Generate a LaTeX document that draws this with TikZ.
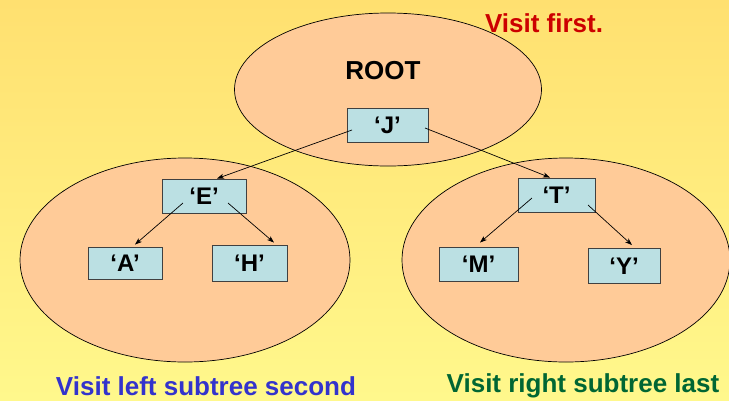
\documentclass[tikz,border=0pt]{standalone}
\usepackage{fontspec}
\setmainfont{Liberation Sans}
\usetikzlibrary{arrows.meta,calc}
\definecolor{bgtop}{HTML}{FFE070}
\definecolor{bgmid}{HTML}{FFC855}
\definecolor{bgbot}{HTML}{FFF88C}
\definecolor{peach}{HTML}{FFCB98}
\definecolor{boxfill}{HTML}{BBE0E3}
\definecolor{boxline}{HTML}{404040}
\definecolor{redtxt}{HTML}{CC0000}
\definecolor{bluetxt}{HTML}{3333CC}
\definecolor{greentxt}{HTML}{006633}
\tikzset{
  region/.style={ellipse fill},
  keybox/.style={draw=boxline, line width=0.9pt, fill=boxfill, inner sep=0pt,
    font=\fontsize{24}{28}\selectfont\bfseries},
  bigtxt/.style={font=\fontsize{26}{30}\selectfont\bfseries, inner sep=0pt},
  link/.style={line width=0.7pt, -{Stealth[length=7pt,width=5pt,inset=2pt]}},
  oval/.style={draw=black, line width=0.7pt, fill=peach}
}
\begin{document}
\begin{tikzpicture}[x=1pt,y=-1pt]
\useasboundingbox (0,0) rectangle (729,400);
\shade[top color=bgtop, middle color=bgmid, bottom color=bgbot] (0,0) rectangle (729,400);
% ovals
\draw[oval] (388,89.5) ellipse [x radius=153.5, y radius=76.5];
\draw[oval] (185,260) ellipse [x radius=165, y radius=102];
\draw[oval] (566,260) ellipse [x radius=164, y radius=102];
% texts
\node[bigtxt] (root) at (383,71) {ROOT};
\node[bigtxt, text=redtxt] (vfirst) at (544,23) {Visit first.};
\node[bigtxt, text=bluetxt] (vleft) at (206,386) {Visit left subtree second};
\node[bigtxt, text=greentxt] (vright) at (583,386) {Visit right subtree last};
% boxes
\node[keybox, minimum width=81pt, minimum height=34pt] (J) at (387.5,125) {‘J’};
\node[keybox, minimum width=84pt, minimum height=34pt] (E) at (204,196) {‘E’};
\node[keybox, minimum width=74pt, minimum height=32pt] (A) at (125,263) {‘A’};
\node[keybox, minimum width=75pt, minimum height=36pt] (H) at (249.5,263) {‘H’};
\node[keybox, minimum width=77pt, minimum height=34pt] (T) at (556.5,195) {‘T’};
\node[keybox, minimum width=79pt, minimum height=34pt] (M) at (478.5,264) {‘M’};
\node[keybox, minimum width=72pt, minimum height=35pt] (Y) at (624,266) {‘Y’};
% start points of connectors
\coordinate (jl) at ($(J.center)+(-35.5,5)$);
\coordinate (jr) at ($(J.center)+(37.5,3)$);
\coordinate (el) at ($(E.center)+(-21,7)$);
\coordinate (er) at ($(E.center)+(24,7)$);
\coordinate (tl) at ($(T.center)+(-24.5,3)$);
\coordinate (tr) at ($(T.center)+(31.5,10)$);
% connectors
\draw[link] (jl) -- ($(E.north)+(13,0)$);
\draw[link] (jr) -- ($(T.north)+(-6.5,0)$);
\draw[link] (el) -- ($(A.north)+(10,-2)$);
\draw[link] (er) -- ($(H.north)+(24.5,-2)$);
\draw[link] (tl) -- ($(M.north)+(1.5,-4)$);
\draw[link] (tr) -- ($(Y.north)+(8,-3)$);
\end{tikzpicture}
\end{document}
